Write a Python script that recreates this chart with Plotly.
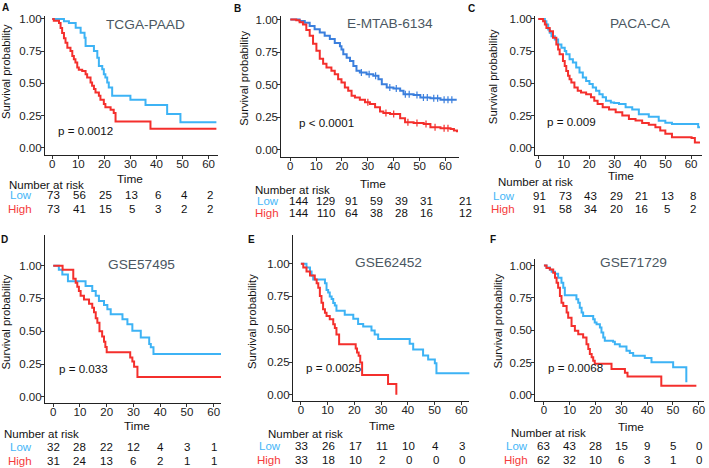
import plotly.graph_objects as go

W, H = 709, 468
FONT = "Liberation Sans, Arial, sans-serif"
LOW = "#3DB3F5"
LOW_B = "#3B7FDD"
HIGH = "#F42F2C"
LOW_TXT = "#45B6F7"
HIGH_TXT = "#F53B3B"

# ---------------- data ----------------
titles = ["TCGA-PAAD", "E-MTAB-6134", "PACA-CA", "GSE57495", "GSE62452", "GSE71729"]
letters = ["A", "B", "C", "D", "E", "F"]
pvalues = ["p = 0.0012", "p < 0.0001", "p = 0.009", "p = 0.033", "p = 0.0025", "p = 0.0068"]
risk_times = [0, 10, 20, 30, 40, 50, 60]
x_ticks = [0, 10, 20, 30, 40, 50, 60]
y_ticks = [0.0, 0.25, 0.5, 0.75, 1.0]

risk_low = [
    [73, 56, 25, 13, 6, 4, 2],
    [144, 129, 91, 59, 39, 31, 21],
    [91, 73, 43, 29, 21, 13, 8],
    [32, 28, 22, 12, 4, 3, 1],
    [33, 26, 17, 11, 10, 4, 3],
    [63, 43, 28, 15, 9, 5, 0],
]
risk_high = [
    [73, 41, 15, 5, 3, 2, 2],
    [144, 110, 64, 38, 28, 16, 12],
    [91, 58, 34, 20, 16, 5, 2],
    [31, 24, 13, 6, 2, 1, 1],
    [33, 18, 10, 2, 0, 0, 0],
    [62, 32, 10, 6, 3, 1, 0],
]

# Kaplan-Meier step curves (time, survival)
A_low_t = [0, 4.5, 6.4, 9, 10.9, 12.4, 12.8, 16, 17.3, 17.9, 19.2, 19.8, 20.4, 21.1, 21.7, 23, 30, 35.8, 44.1, 49.2, 63]
A_low_s = [1.0, 0.982, 0.969, 0.931, 0.892, 0.854, 0.789, 0.751, 0.699, 0.635, 0.609, 0.571, 0.545, 0.507, 0.468, 0.404, 0.373, 0.332, 0.262, 0.198, 0.198]
A_high_t = [0, 0.6, 2.6, 3.2, 3.8, 4.5, 5.1, 5.8, 7.0, 7.7, 8.3, 8.9, 9.6, 10.2, 11.5, 12.8, 13.4, 14.7, 15.3, 16.0,
            16.6, 17.9, 18.5, 19.8, 20.4, 22.4, 23.6, 24.3, 37.7, 63]
A_high_s = [1.0, 0.985, 0.969, 0.93, 0.89, 0.85, 0.815, 0.776, 0.751, 0.712, 0.686, 0.661, 0.623, 0.605, 0.596, 0.571, 0.545, 0.507, 0.481, 0.455,
            0.429, 0.404, 0.373, 0.339, 0.314, 0.295, 0.27, 0.203, 0.147, 0.147]

B_low_t = [0, 3.6, 5.6, 7.5, 9.4, 11.4, 13.3, 15.3, 17.2, 19.2, 19.8, 20.5, 21.8, 23.1, 24.4, 25.6, 26.9, 29.5, 32.1, 34.1,
           35.4, 37.3, 39.9, 42.5, 43.8, 47.7, 50.3, 54.2, 58.1, 64]
B_low_s = [1, 0.99, 0.975, 0.95, 0.925, 0.9, 0.875, 0.85, 0.82, 0.795, 0.77, 0.733, 0.707, 0.682, 0.644, 0.606, 0.593, 0.58, 0.568, 0.542,
           0.504, 0.478, 0.471, 0.453, 0.427, 0.42, 0.402, 0.395, 0.384, 0.377]
B_high_t = [0, 2.3, 3.6, 4.9, 6.2, 7.5, 8.8, 10.1, 11.4, 12.7, 14.0, 15.9, 17.2, 18.5, 19.8, 21.1, 22.4, 23.7, 25.0, 26.9,
            28.9, 30.8, 32.8, 34.7, 36.0, 38.6, 42.5, 44.4, 47.7, 51.6, 54.2, 58.1, 62.0, 63.3, 64.5]
B_high_s = [1, 0.995, 0.98, 0.962, 0.92, 0.875, 0.815, 0.76, 0.70, 0.66, 0.631, 0.606, 0.58, 0.542, 0.517, 0.478, 0.453, 0.415, 0.402, 0.384,
            0.364, 0.351, 0.326, 0.293, 0.283, 0.275, 0.242, 0.211, 0.206, 0.198, 0.173, 0.165, 0.16, 0.148, 0.135]
# censoring marks visible on panel B
B_low_cens = [27.5, 30.5, 33, 38.5, 41, 44.5, 46, 49, 51.5, 53, 55.5, 57, 59.5, 61, 62.5]
B_high_cens = [30, 37, 40, 45.5, 49, 52.5, 56, 59.5, 61]

C_low_t = [0, 2.6, 3.2, 3.9, 4.5, 5.2, 6.5, 7.8, 9.1, 10.4, 11.0, 12.3, 13.6, 14.9, 16.2, 17.5, 18.8, 20.1, 21.4, 22.7,
           24.0, 25.3, 26.6, 28.5, 29.8, 31.7, 34.3, 36.9, 39.5, 43.4, 47.3, 49.9, 52.5, 62.8, 63.5]
C_low_s = [1, 0.982, 0.956, 0.918, 0.892, 0.866, 0.841, 0.802, 0.776, 0.751, 0.725, 0.686, 0.661, 0.622, 0.584, 0.545, 0.519, 0.494, 0.468, 0.442,
           0.416, 0.391, 0.365, 0.352, 0.347, 0.339, 0.314, 0.296, 0.26, 0.24, 0.21, 0.195, 0.185, 0.16, 0.16]
C_high_t = [0, 1.9, 2.6, 3.2, 4.5, 5.8, 7.1, 7.8, 8.4, 9.7, 10.4, 11.0, 11.7, 12.3, 13.0, 14.2, 15.5, 16.8, 18.8, 20.7,
            22.0, 23.3, 25.3, 27.8, 30.4, 33.0, 35.6, 38.2, 40.8, 43.4, 46.0, 47.9, 49.9, 52.5, 60.2, 61.5, 63.5]
C_high_s = [1, 0.982, 0.956, 0.93, 0.905, 0.853, 0.802, 0.763, 0.725, 0.673, 0.635, 0.596, 0.558, 0.532, 0.507, 0.468, 0.442, 0.429, 0.416, 0.391,
            0.365, 0.339, 0.314, 0.296, 0.275, 0.25, 0.224, 0.211, 0.193, 0.178, 0.16, 0.134, 0.108, 0.082, 0.075, 0.04, 0.04]

D_low_t = [0, 2.1, 3.4, 5.5, 12.1, 14.6, 15.9, 17.1, 19, 20.25, 21.5, 25.9, 27.75, 29.6, 32.75, 35.9, 36.5, 37.5, 62.75]
D_low_s = [1, 0.969, 0.932, 0.882, 0.844, 0.807, 0.77, 0.73, 0.70, 0.667, 0.63, 0.592, 0.554, 0.504, 0.453, 0.403, 0.378, 0.327, 0.327]
D_high_t = [0, 3.5, 7.5, 8.4, 9, 9.6, 10.25, 11.5, 13.4, 14.6, 15.25, 15.9, 16.5, 17.3, 18.3, 19, 19.5, 20, 28.8, 29.6,
            30.25, 31.5, 62.75]
D_high_s = [1, 0.968, 0.9, 0.87, 0.84, 0.806, 0.77, 0.743, 0.71, 0.68, 0.645, 0.6, 0.565, 0.5, 0.46, 0.42, 0.38, 0.34, 0.30, 0.27,
            0.23, 0.151, 0.151]

E_low_t = [0, 2.1, 3.4, 4.0, 4.6, 9.0, 9.6, 10.2, 10.8, 11.5, 12.1, 12.7, 13.3, 16.4, 19.6, 21.4, 23.3, 26.4, 27.6, 28.9,
           40.7, 42.0, 45.7, 47.6, 50.1, 50.7, 63.5]
E_low_s = [1, 0.97, 0.94, 0.91, 0.88, 0.85, 0.80, 0.78, 0.75, 0.73, 0.70, 0.68, 0.64, 0.61, 0.58, 0.54, 0.52, 0.49, 0.46, 0.425,
           0.39, 0.345, 0.30, 0.27, 0.24, 0.165, 0.165]
E_high_t = [0, 0.9, 2.1, 3.4, 5.2, 5.9, 6.5, 7.1, 7.7, 8.3, 9.0, 9.6, 10.8, 12.1, 12.7, 13.3, 14.3, 20.5, 21.0, 21.6,
            22.2, 22.9, 32.6, 35.7]
E_high_s = [1, 0.97, 0.94, 0.91, 0.879, 0.85, 0.816, 0.753, 0.702, 0.652, 0.626, 0.601, 0.576, 0.538, 0.51, 0.46, 0.386, 0.354, 0.323, 0.298,
            0.247, 0.152, 0.083, 0.0]

F_low_t = [0, 1.0, 2.3, 3.0, 4.3, 5.5, 6.8, 7.5, 8.1, 12.6, 13.3, 13.9, 14.6, 15.2, 19.1, 19.7, 20.4, 21.7, 22.3, 23.0,
           23.6, 26.8, 27.5, 29.4, 32.0, 33.3, 34.6, 39.1, 41.7, 50.1, 55.2, 55.6]
F_low_s = [1, 0.984, 0.968, 0.952, 0.936, 0.905, 0.867, 0.828, 0.77, 0.74, 0.713, 0.674, 0.636, 0.61, 0.585, 0.56, 0.546, 0.521, 0.482, 0.444,
           0.418, 0.41, 0.392, 0.374, 0.341, 0.323, 0.303, 0.285, 0.251, 0.213, 0.105, 0.105]
F_high_t = [0, 1.0, 2.3, 3.6, 4.3, 4.9, 5.5, 6.2, 6.8, 7.5, 8.8, 9.4, 10.7, 12.0, 13.3, 15.2, 16.5, 17.2, 17.8, 18.5,
            19.1, 19.7, 26.2, 31.4, 32.4, 45.5, 59.1]
F_high_s = [1, 0.982, 0.969, 0.944, 0.905, 0.867, 0.828, 0.764, 0.713, 0.687, 0.636, 0.597, 0.533, 0.495, 0.469, 0.444, 0.392, 0.354, 0.315, 0.29,
            0.264, 0.24, 0.2, 0.17, 0.141, 0.07, 0.07]

curves_low = [(A_low_t, A_low_s), (B_low_t, B_low_s), (C_low_t, C_low_s),
              (D_low_t, D_low_s), (E_low_t, E_low_s), (F_low_t, F_low_s)]
curves_high = [(A_high_t, A_high_s), (B_high_t, B_high_s), (C_high_t, C_high_s),
               (D_high_t, D_high_s), (E_high_t, E_high_s), (F_high_t, F_high_s)]
censor_low = [[], B_low_cens, [], [], [], []]
censor_high = [[], B_high_cens, [], [], [], []]

# ---------------- layout (pixel geometry) ----------------
geo = [
    dict(x0=45, x1=218, y0=13, y1=152.7, xr=[-2.8, 63.5], yr=[-0.054, 1.023]),
    dict(x0=281.7, x1=460, y0=13.3, y1=155, xr=[-3.48, 65.4], yr=[-0.056, 1.026]),
    dict(x0=536, x1=703, y0=13, y1=152.7, xr=[-1.18, 64.3], yr=[-0.054, 1.023]),
    dict(x0=45, x1=221.7, y0=233, y1=402.7, xr=[-3.1, 62.9], yr=[-0.047, 1.237]),
    dict(x0=293.3, x1=470, y0=233, y1=400.7, xr=[-2.99, 63.0], yr=[-0.048, 1.222]),
    dict(x0=536, x1=705, y0=258, y1=400.7, xr=[-3.37, 62.06], yr=[-0.049, 1.048]),
]
rshift = [
    [1.5] * 7,
    [8.5, 9.5, 9.5, 8.8, 8.1, 7.4, 20],
    [1.5] * 7,
    [0] * 7,
    [1] * 7,
    [0] * 7,
]
text_pos = [
    dict(title=(145.7, 21.7), p=(56, 128), ylab=(5.5, 69), letter=(5.5, 5), time=(130, 176.7), nar=(6.7, 182.7), lhx=34.5, ly=193.3, hy=207.7),
    dict(title=(391, 21), p=(297, 120.5), ylab=(243.5, 76), letter=(238, 6), time=(374, 181.7), nar=(253.3, 188.3), lhx=281.5, ly=199, hy=211),
    dict(title=(641.7, 21), p=(546, 119), ylab=(493.3, 74), letter=(472, 6), time=(621.7, 174), nar=(496.7, 180), lhx=518, ly=194, hy=207.7),
    dict(title=(141.7, 263.3), p=(57, 368.3), ylab=(5.5, 321), letter=(5, 238), time=(136.7, 426), nar=(1.7, 434), lhx=34, ly=447.3, hy=460.7),
    dict(title=(389.3, 260.7), p=(304, 366.7), ylab=(251.7, 320.7), letter=(251.7, 238.3), time=(382.7, 426), nar=(266, 433.3), lhx=283, ly=446, hy=460),
    dict(title=(634.3, 260.7), p=(546.7, 367.3), ylab=(498.3, 320), letter=(493.3, 238.3), time=(631.7, 426.7), nar=(510, 432.7), lhx=531, ly=446, hy=460),
]


def px(x):
    return x / W


def py(y):
    return 1 - y / H


def step_value(ts, ss, t):
    v = ss[0]
    for tt, s in zip(ts, ss):
        if tt <= t:
            v = s
    return v


fig = go.Figure()
annotations = []
for i in range(6):
    n = "" if i == 0 else str(i + 1)
    g = geo[i]
    tp = text_pos[i]
    lowc = LOW_B if i == 1 else LOW
    for (ts, ss), col, cens in ((curves_low[i], lowc, censor_low[i]), (curves_high[i], HIGH, censor_high[i])):
        fig.add_trace(go.Scatter(x=ts, y=ss, mode="lines", line=dict(color=col, width=2, shape="hv"),
                                 xaxis="x" + n, yaxis="y" + n, showlegend=False, hoverinfo="skip"))
        if cens:
            fig.add_trace(go.Scatter(x=cens, y=[step_value(ts, ss, c) for c in cens], mode="markers",
                                     marker=dict(symbol="line-ns", size=5, line=dict(color=col, width=1.2)),
                                     xaxis="x" + n, yaxis="y" + n, showlegend=False, hoverinfo="skip"))
    common = dict(showgrid=False, zeroline=False, showline=True, linecolor="#222222", linewidth=1,
                  ticks="outside", ticklen=3, tickwidth=1, tickcolor="#333333",
                  tickfont=dict(family=FONT, size=11.5, color="#222222"))
    fig.update_layout(**{
        "xaxis" + n: dict(domain=[px(g["x0"]), px(g["x1"])], range=g["xr"], tickvals=x_ticks,
                          anchor="y" + n, ticklabelstandoff=-5, **common),
        "yaxis" + n: dict(domain=[py(g["y1"]), py(g["y0"])], range=g["yr"], tickvals=y_ticks,
                          ticktext=["%.2f" % v for v in y_ticks], anchor="x" + n,
                          ticklabelstandoff=-3, **common),
    })

    def ann(text, x, y, size=11.5, color="#111111", xanchor="center", **kw):
        d = dict(text=text, x=x, y=y, xref="paper", yref="paper", showarrow=False,
                 xanchor=xanchor, yanchor="middle", font=dict(family=FONT, size=size, color=color))
        d.update(kw)
        annotations.append(d)

    ann(titles[i], px(tp["title"][0]), py(tp["title"][1]), size=13.7, color="#4B5762")
    ann(pvalues[i], px(tp["p"][0]), py(tp["p"][1]), size=11.6, color="#111111", xanchor="left")
    ann("Survival probability", px(tp["ylab"][0]), py(tp["ylab"][1]), size=11.3, textangle=-90)
    ann("<b>" + letters[i] + "</b>", px(tp["letter"][0]), py(tp["letter"][1]), size=10)
    ann("Time", px(tp["time"][0]), py(tp["time"][1]), size=11.8)
    ann("Number at risk", px(tp["nar"][0]), py(tp["nar"][1]), size=11.5, xanchor="left")
    ann("Low", px(tp["lhx"]), py(tp["ly"]), size=11.5, color=LOW_TXT, xanchor="right")
    ann("High", px(tp["lhx"]), py(tp["hy"]), size=11.5, color=HIGH_TXT, xanchor="right")
    for k, t in enumerate(risk_times):
        for row, yy in ((risk_low[i], tp["ly"]), (risk_high[i], tp["hy"])):
            annotations.append(dict(text=str(row[k]), x=t, y=py(yy), xref="x" + n, yref="paper",
                                    xshift=rshift[i][k], showarrow=False, xanchor="center", yanchor="middle",
                                    font=dict(family=FONT, size=11.5, color="#111111")))

fig.update_layout(width=W, height=H, margin=dict(l=0, r=0, t=0, b=0),
                  paper_bgcolor="white", plot_bgcolor="white",
                  annotations=annotations, showlegend=False)
fig.write_html("out.html", config={"displayModeBar": False, "staticPlot": True},
               post_script="document.body.style.margin='0';document.body.style.padding='0';"
                           "document.body.style.overflow='hidden';")
